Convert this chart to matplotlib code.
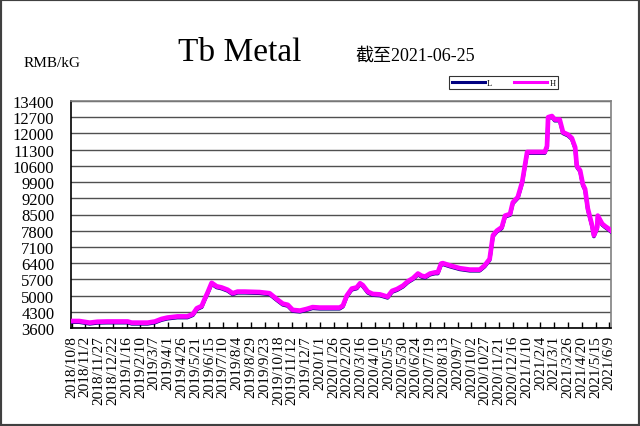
import matplotlib
matplotlib.use('Agg')
import matplotlib.pyplot as plt
import pandas as pd
from matplotlib.patches import Rectangle

dates = [
    '2018-10-08', '2018-10-22', '2018-11-10', '2018-11-24', '2018-12-12',
    '2019-01-18', '2019-01-25', '2019-02-23', '2019-03-08', '2019-03-20',
    '2019-03-31', '2019-04-18', '2019-05-06', '2019-05-16', '2019-05-23',
    '2019-06-01', '2019-06-05', '2019-06-12', '2019-06-19', '2019-06-28',
    '2019-07-07', '2019-07-18', '2019-07-27', '2019-08-05', '2019-08-18',
    '2019-09-14', '2019-10-02', '2019-10-15', '2019-10-26', '2019-11-04',
    '2019-11-13', '2019-11-26', '2019-12-08', '2019-12-19', '2020-01-01',
    '2020-02-06', '2020-02-12', '2020-02-19', '2020-02-28', '2020-03-08',
    '2020-03-14', '2020-03-19', '2020-03-28', '2020-04-06', '2020-04-19',
    '2020-05-03', '2020-05-11', '2020-05-20', '2020-05-31', '2020-06-09',
    '2020-06-18', '2020-06-27', '2020-07-04', '2020-07-10', '2020-07-19',
    '2020-07-28', '2020-08-02', '2020-08-08', '2020-08-11', '2020-08-24',
    '2020-09-11', '2020-09-29', '2020-10-17', '2020-10-26', '2020-11-04',
    '2020-11-10', '2020-11-17', '2020-11-26', '2020-12-02', '2020-12-11',
    '2020-12-16', '2020-12-25', '2021-01-02', '2021-01-11', '2021-02-12',
    '2021-02-16', '2021-02-18', '2021-02-25', '2021-03-02', '2021-03-11',
    '2021-03-17', '2021-03-26', '2021-04-02', '2021-04-08', '2021-04-11',
    '2021-04-17', '2021-04-22', '2021-04-26', '2021-05-01', '2021-05-09',
    '2021-05-12', '2021-05-18', '2021-05-19', '2021-05-27', '2021-06-01',
    '2021-06-07', '2021-06-12',
]

high = [
    3900, 3900, 3830, 3870, 3880, 3880, 3830, 3830, 3880, 3990,
    4050, 4100, 4100, 4200, 4450, 4550, 4780, 5150, 5550, 5400,
    5350, 5250, 5100, 5170, 5170, 5150, 5100, 4850, 4650, 4600,
    4380, 4350, 4420, 4500, 4480, 4480, 4570, 5000, 5300, 5350,
    5530, 5450, 5170, 5070, 5050, 4950, 5200, 5280, 5430, 5620,
    5750, 5950, 5850, 5820, 5950, 6000, 6000, 6380, 6400, 6300,
    6180, 6120, 6120, 6300, 6580, 7600, 7800, 7950, 8450, 8520,
    9020, 9250, 9900, 11200, 11200, 11450, 12700, 12750, 12600, 12600,
    12050, 11950, 11800, 11400, 10600, 10400, 9800, 9600, 8750, 8000,
    7600, 7950, 8450, 8100, 8000, 7900, 7800,
]

low = [
    3850, 3850, 3780, 3820, 3830, 3830, 3780, 3780, 3830, 3940,
    4000, 4050, 4050, 4150, 4400, 4500, 4730, 5100, 5500, 5350,
    5300, 5200, 5050, 5120, 5120, 5100, 5050, 4800, 4600, 4550,
    4330, 4300, 4370, 4450, 4430, 4430, 4520, 4950, 5250, 5300,
    5480, 5400, 5120, 5020, 5000, 4900, 5150, 5230, 5380, 5570,
    5700, 5900, 5800, 5770, 5900, 5950, 5950, 6330, 6350, 6250,
    6130, 6070, 6070, 6250, 6530, 7550, 7750, 7900, 8400, 8470,
    8970, 9200, 9850, 11150, 11150, 11400, 12650, 12700, 12550, 12550,
    12000, 11900, 11750, 11350, 10550, 10350, 9750, 9550, 8700, 7950,
    7550, 7900, 8400, 8050, 7950, 7850, 7750,
]

y_ticks = [3600, 4300, 5000, 5700, 6400, 7100, 7800, 8500, 9200,
           9900, 10600, 11300, 12000, 12700, 13400]
x_tick_labels = [
    '2018/10/8', '2018/11/2', '2018/11/27', '2018/12/22', '2019/1/16',
    '2019/2/10', '2019/3/7', '2019/4/1', '2019/4/26', '2019/5/21',
    '2019/6/15', '2019/7/10', '2019/8/4', '2019/8/29', '2019/9/23',
    '2019/10/18', '2019/11/12', '2019/12/7', '2020/1/1', '2020/1/26',
    '2020/2/20', '2020/3/16', '2020/4/10', '2020/5/5', '2020/5/30',
    '2020/6/24', '2020/7/19', '2020/8/13', '2020/9/7', '2020/10/2',
    '2020/10/27', '2020/11/21', '2020/12/16', '2021/1/10', '2021/2/4',
    '2021/3/1', '2021/3/26', '2021/4/20', '2021/5/15', '2021/6/9',
]

SERIF = 'Liberation Serif'

fig = plt.figure(figsize=(6.4, 4.27), dpi=100)
fig.patch.set_facecolor('white')
ax = fig.add_axes([71 / 640, 1 - 329 / 427, 540 / 640, 227 / 427])

d = pd.to_datetime(dates)
ax.plot(d, low, color='#000080', lw=2.6, zorder=3, label='L',
        solid_joinstyle='round')
ax.plot(d, high, color='#FF00FF', lw=3.4, zorder=4, label='H',
        solid_joinstyle='round')

ax.set_ylim(3600, 13400)
ax.set_yticks(y_ticks)
ax.set_yticklabels([str(v) for v in y_ticks], family=SERIF, fontsize=12)

xt = pd.to_datetime([s.replace('/', '-') for s in x_tick_labels])
ax.set_xticks(xt)
ax.set_xticklabels(x_tick_labels, rotation=90, family=SERIF, fontsize=11)
ax.set_xlim(pd.Timestamp('2018-10-07'), d[-1])

ax.grid(axis='y', color='#505050', lw=1.0, zorder=1)
ax.tick_params(axis='x', direction='in', length=4, width=1, pad=5,
               color='black')
ax.tick_params(axis='y', length=0, pad=12)
for s in ['top', 'right']:
    ax.spines[s].set_color('#808080')
    ax.spines[s].set_linewidth(1.2)
for s in ['left', 'bottom']:
    ax.spines[s].set_color('black')
    ax.spines[s].set_linewidth(1.2)

fig.text(24 / 640, 1 - 67 / 427, 'RMB/kG', family=SERIF, fontsize=11,
         va='baseline', ha='left')
fig.text(178 / 640, 1 - 61 / 427, 'Tb Metal', family=SERIF, fontsize=24,
         va='baseline', ha='left')
fig.text(355 / 640, 1 - 61 / 427, '截至2021-06-25',
         family=[SERIF, 'Noto Sans CJK SC'], fontsize=13,
         va='baseline', ha='left')

leg = fig.legend(loc='center', bbox_to_anchor=(503.5 / 640, 1 - 83.5 / 427),
                 ncol=2, frameon=True, fancybox=False,
                 handlelength=4.0, handletextpad=0.25, columnspacing=2.6,
                 borderpad=0.3, borderaxespad=0,
                 prop={'family': SERIF, 'size': 6})
leg.get_frame().set_edgecolor('black')
leg.get_frame().set_linewidth(0.8)
for line in leg.get_lines():
    line.set_linewidth(2.2)

fig.add_artist(Rectangle((0, 0), 1, 1, transform=fig.transFigure,
                         fill=False, ec='#404040', lw=3))

fig.savefig('out.png', dpi=100)
